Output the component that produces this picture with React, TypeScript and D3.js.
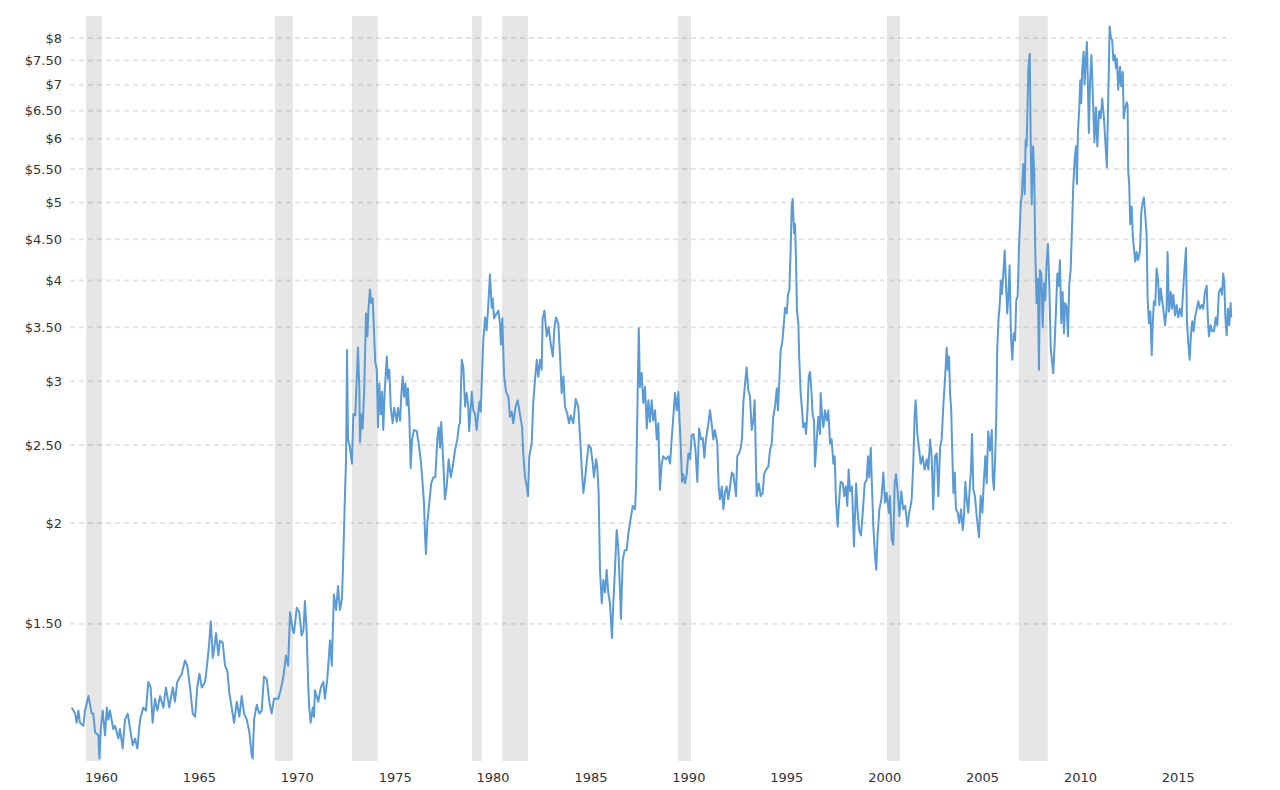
import React, { useEffect, useRef } from 'react';
import * as d3 from 'd3';

// Corn price history (log scale).
// Dates are in the chart's own year units (as placed against the axis labels).
const priceSeries: [number, number][] = [
  [1958.48, 1.18], [1958.65, 1.16], [1958.73, 1.13], [1958.82, 1.17], [1958.9, 1.13], [1959.07, 1.12],
  [1959.16, 1.17], [1959.33, 1.22], [1959.5, 1.16], [1959.58, 1.16], [1959.67, 1.1], [1959.84, 1.09],
  [1959.89, 1.02], [1959.96, 1.11], [1960.06, 1.17], [1960.18, 1.09], [1960.27, 1.18], [1960.35, 1.14],
  [1960.43, 1.17], [1960.6, 1.11], [1960.69, 1.12], [1960.86, 1.08], [1960.94, 1.11], [1961.08, 1.05],
  [1961.2, 1.14], [1961.34, 1.16], [1961.46, 1.11], [1961.59, 1.06], [1961.71, 1.08], [1961.83, 1.05],
  [1961.97, 1.14], [1962.13, 1.18], [1962.27, 1.17], [1962.39, 1.27], [1962.51, 1.25], [1962.61, 1.13],
  [1962.73, 1.21], [1962.85, 1.17], [1962.99, 1.22], [1963.16, 1.18], [1963.29, 1.25], [1963.46, 1.18],
  [1963.64, 1.25], [1963.75, 1.2], [1963.87, 1.27], [1964.1, 1.3], [1964.26, 1.35], [1964.38, 1.33],
  [1964.52, 1.25], [1964.66, 1.16], [1964.78, 1.15], [1964.89, 1.25], [1965.0, 1.3], [1965.12, 1.25],
  [1965.29, 1.27], [1965.4, 1.34], [1965.49, 1.41], [1965.58, 1.51], [1965.68, 1.36], [1965.76, 1.4],
  [1965.85, 1.46], [1965.97, 1.37], [1966.05, 1.43], [1966.19, 1.42], [1966.31, 1.33], [1966.43, 1.31],
  [1966.53, 1.23], [1966.65, 1.18], [1966.77, 1.13], [1966.91, 1.2], [1967.04, 1.15], [1967.16, 1.22],
  [1967.28, 1.16], [1967.42, 1.14], [1967.55, 1.1], [1967.67, 1.03], [1967.72, 1.02], [1967.79, 1.14],
  [1967.93, 1.19], [1968.06, 1.16], [1968.18, 1.17], [1968.3, 1.29], [1968.44, 1.28], [1968.57, 1.2],
  [1968.69, 1.16], [1968.81, 1.21], [1969.03, 1.21], [1969.15, 1.24], [1969.29, 1.29], [1969.42, 1.37],
  [1969.53, 1.33], [1969.63, 1.55], [1969.77, 1.47], [1969.83, 1.46], [1969.97, 1.57], [1970.1, 1.55],
  [1970.22, 1.45], [1970.31, 1.47], [1970.39, 1.6], [1970.48, 1.46], [1970.56, 1.25], [1970.61, 1.18],
  [1970.68, 1.13], [1970.79, 1.18], [1970.85, 1.15], [1970.9, 1.24], [1971.07, 1.2], [1971.2, 1.25],
  [1971.33, 1.27], [1971.41, 1.21], [1971.53, 1.28], [1971.67, 1.43], [1971.76, 1.33], [1971.87, 1.63],
  [1971.98, 1.56], [1972.08, 1.67], [1972.18, 1.56], [1972.28, 1.61], [1972.35, 1.82], [1972.4, 2.02],
  [1972.45, 2.24], [1972.49, 2.4], [1972.54, 3.28], [1972.59, 2.54], [1972.69, 2.48], [1972.79, 2.37],
  [1972.86, 2.73], [1972.96, 2.72], [1973.1, 3.3], [1973.17, 2.93], [1973.2, 2.52], [1973.29, 2.73],
  [1973.34, 2.62], [1973.42, 2.95], [1973.51, 3.64], [1973.58, 3.41], [1973.63, 3.67], [1973.71, 3.9],
  [1973.78, 3.75], [1973.85, 3.8], [1973.92, 3.44], [1973.98, 3.17], [1974.06, 3.1], [1974.12, 2.63],
  [1974.19, 2.98], [1974.26, 2.73], [1974.33, 2.91], [1974.39, 2.61], [1974.46, 2.9], [1974.57, 3.22],
  [1974.63, 3.02], [1974.7, 3.1], [1974.77, 2.79], [1974.87, 2.66], [1974.95, 2.78], [1975.08, 2.67],
  [1975.14, 2.78], [1975.25, 2.68], [1975.31, 2.88], [1975.38, 3.04], [1975.45, 2.87], [1975.52, 2.98],
  [1975.59, 2.8], [1975.65, 2.94], [1975.72, 2.71], [1975.79, 2.34], [1975.86, 2.54], [1975.96, 2.61],
  [1976.1, 2.6], [1976.2, 2.51], [1976.3, 2.4], [1976.4, 2.24], [1976.47, 2.12], [1976.52, 1.94],
  [1976.57, 1.83], [1976.64, 2.0], [1976.74, 2.12], [1976.84, 2.24], [1976.95, 2.28], [1977.05, 2.28],
  [1977.15, 2.54], [1977.22, 2.63], [1977.29, 2.48], [1977.35, 2.67], [1977.46, 2.37], [1977.54, 2.14],
  [1977.63, 2.22], [1977.73, 2.4], [1977.84, 2.28], [1977.94, 2.35], [1978.05, 2.46], [1978.17, 2.54],
  [1978.26, 2.65], [1978.31, 2.66], [1978.4, 3.19], [1978.48, 3.12], [1978.57, 2.79], [1978.65, 2.9],
  [1978.73, 2.79], [1978.78, 2.6], [1978.91, 2.91], [1978.99, 2.76], [1979.08, 2.73], [1979.16, 2.61],
  [1979.3, 2.83], [1979.37, 2.75], [1979.43, 3.04], [1979.5, 3.37], [1979.59, 3.6], [1979.67, 3.47],
  [1979.76, 3.75], [1979.84, 4.07], [1979.93, 3.7], [1979.98, 3.8], [1980.05, 3.59], [1980.15, 3.63],
  [1980.27, 3.67], [1980.35, 3.54], [1980.4, 3.33], [1980.47, 3.59], [1980.56, 3.05], [1980.66, 2.91],
  [1980.78, 2.87], [1980.86, 2.71], [1980.95, 2.75], [1981.03, 2.66], [1981.15, 2.79], [1981.26, 2.84],
  [1981.37, 2.73], [1981.48, 2.63], [1981.54, 2.44], [1981.63, 2.28], [1981.72, 2.22], [1981.78, 2.16],
  [1981.85, 2.42], [1981.97, 2.51], [1982.05, 2.82], [1982.14, 3.01], [1982.23, 3.19], [1982.31, 3.04],
  [1982.4, 3.19], [1982.48, 3.1], [1982.53, 3.59], [1982.62, 3.67], [1982.74, 3.41], [1982.84, 3.5],
  [1982.94, 3.34], [1983.05, 3.22], [1983.13, 3.49], [1983.21, 3.6], [1983.33, 3.54], [1983.42, 3.22],
  [1983.5, 2.9], [1983.59, 3.04], [1983.67, 2.79], [1983.79, 2.73], [1983.88, 2.66], [1983.96, 2.72],
  [1984.1, 2.66], [1984.22, 2.85], [1984.35, 2.79], [1984.44, 2.56], [1984.53, 2.33], [1984.61, 2.18],
  [1984.69, 2.26], [1984.78, 2.38], [1984.88, 2.5], [1984.99, 2.48], [1985.09, 2.37], [1985.15, 2.28],
  [1985.26, 2.4], [1985.32, 2.35], [1985.39, 2.18], [1985.46, 1.75], [1985.55, 1.59], [1985.63, 1.7],
  [1985.72, 1.64], [1985.8, 1.75], [1985.88, 1.64], [1985.97, 1.59], [1986.07, 1.44], [1986.14, 1.59],
  [1986.23, 1.76], [1986.31, 1.96], [1986.39, 1.87], [1986.48, 1.65], [1986.53, 1.52], [1986.62, 1.8],
  [1986.72, 1.85], [1986.82, 1.85], [1986.91, 1.94], [1986.99, 2.0], [1987.13, 2.1], [1987.25, 2.08],
  [1987.3, 2.22], [1987.37, 2.76], [1987.44, 3.49], [1987.5, 2.95], [1987.59, 3.07], [1987.67, 2.82],
  [1987.76, 2.95], [1987.85, 2.62], [1987.93, 2.84], [1988.01, 2.67], [1988.1, 2.84], [1988.18, 2.68],
  [1988.27, 2.76], [1988.36, 2.54], [1988.44, 2.66], [1988.52, 2.2], [1988.61, 2.37], [1988.69, 2.42],
  [1988.83, 2.4], [1988.95, 2.42], [1989.04, 2.37], [1989.12, 2.54], [1989.2, 2.7], [1989.29, 2.9],
  [1989.38, 2.76], [1989.46, 2.91], [1989.51, 2.73], [1989.58, 2.51], [1989.65, 2.25], [1989.71, 2.3],
  [1989.8, 2.24], [1989.89, 2.3], [1989.97, 2.44], [1990.06, 2.4], [1990.14, 2.57], [1990.23, 2.58],
  [1990.33, 2.48], [1990.43, 2.25], [1990.52, 2.62], [1990.62, 2.54], [1990.71, 2.55], [1990.79, 2.41],
  [1990.87, 2.54], [1990.99, 2.65], [1991.08, 2.76], [1991.16, 2.66], [1991.25, 2.54], [1991.33, 2.61],
  [1991.45, 2.51], [1991.52, 2.22], [1991.59, 2.14], [1991.68, 2.22], [1991.76, 2.08], [1991.84, 2.18],
  [1991.93, 2.22], [1992.01, 2.14], [1992.1, 2.22], [1992.19, 2.31], [1992.27, 2.3], [1992.35, 2.22],
  [1992.41, 2.16], [1992.47, 2.42], [1992.56, 2.44], [1992.65, 2.48], [1992.71, 2.54], [1992.78, 2.82],
  [1992.87, 2.98], [1992.95, 3.12], [1993.03, 2.93], [1993.12, 2.87], [1993.21, 2.61], [1993.29, 2.68],
  [1993.36, 2.84], [1993.46, 2.16], [1993.57, 2.24], [1993.67, 2.16], [1993.77, 2.18], [1993.84, 2.3],
  [1993.94, 2.33], [1994.06, 2.35], [1994.14, 2.46], [1994.23, 2.51], [1994.31, 2.71], [1994.4, 2.79],
  [1994.49, 2.94], [1994.55, 2.76], [1994.62, 3.01], [1994.69, 3.28], [1994.76, 3.34], [1994.82, 3.46],
  [1994.91, 3.7], [1995.0, 3.64], [1995.06, 3.84], [1995.13, 3.89], [1995.2, 4.39], [1995.25, 4.94],
  [1995.3, 5.05], [1995.37, 4.58], [1995.42, 4.7], [1995.47, 4.26], [1995.52, 3.67], [1995.59, 3.54],
  [1995.64, 3.19], [1995.71, 2.9], [1995.78, 2.76], [1995.84, 2.63], [1995.93, 2.66], [1995.98, 2.58],
  [1996.05, 2.73], [1996.12, 3.04], [1996.19, 3.08], [1996.25, 2.94], [1996.32, 2.73], [1996.39, 2.68],
  [1996.44, 2.35], [1996.53, 2.54], [1996.61, 2.71], [1996.7, 2.58], [1996.73, 2.9], [1996.8, 2.73],
  [1996.87, 2.63], [1996.95, 2.76], [1997.04, 2.68], [1997.12, 2.76], [1997.21, 2.51], [1997.29, 2.54],
  [1997.38, 2.37], [1997.45, 2.42], [1997.51, 2.14], [1997.6, 1.98], [1997.68, 2.14], [1997.75, 2.25],
  [1997.86, 2.24], [1997.94, 2.16], [1998.02, 2.22], [1998.09, 2.1], [1998.16, 2.33], [1998.23, 2.19],
  [1998.33, 2.22], [1998.43, 1.87], [1998.54, 2.24], [1998.62, 2.06], [1998.7, 1.96], [1998.79, 1.93],
  [1998.88, 2.06], [1998.98, 2.24], [1999.08, 2.26], [1999.15, 2.42], [1999.21, 2.28], [1999.29, 2.48],
  [1999.35, 2.22], [1999.42, 1.98], [1999.51, 1.82], [1999.57, 1.75], [1999.64, 1.93], [1999.73, 2.08],
  [1999.83, 2.14], [1999.93, 2.31], [2000.02, 2.12], [2000.1, 2.18], [2000.21, 2.06], [2000.27, 2.16],
  [2000.36, 1.91], [2000.44, 1.88], [2000.51, 2.24], [2000.58, 2.3], [2000.67, 2.18], [2000.75, 2.04],
  [2000.85, 2.19], [2000.95, 2.08], [2001.05, 2.1], [2001.16, 1.98], [2001.26, 2.06], [2001.38, 2.14],
  [2001.46, 2.37], [2001.53, 2.71], [2001.58, 2.84], [2001.67, 2.58], [2001.75, 2.48], [2001.84, 2.37],
  [2001.94, 2.42], [2002.04, 2.33], [2002.15, 2.4], [2002.23, 2.33], [2002.32, 2.54], [2002.4, 2.42],
  [2002.48, 2.08], [2002.57, 2.42], [2002.66, 2.44], [2002.74, 2.16], [2002.83, 2.48], [2002.91, 2.54],
  [2002.99, 2.78], [2003.08, 3.02], [2003.17, 3.3], [2003.22, 3.1], [2003.29, 3.22], [2003.34, 2.9],
  [2003.4, 2.76], [2003.45, 2.46], [2003.51, 2.18], [2003.58, 2.31], [2003.64, 2.08], [2003.73, 2.06],
  [2003.81, 2.0], [2003.9, 2.08], [2003.99, 1.96], [2004.05, 2.04], [2004.12, 2.25], [2004.19, 2.14],
  [2004.27, 2.06], [2004.36, 2.24], [2004.41, 2.33], [2004.46, 2.58], [2004.53, 2.2], [2004.61, 2.16],
  [2004.7, 2.04], [2004.82, 1.92], [2004.9, 2.16], [2004.99, 2.06], [2005.06, 2.24], [2005.14, 2.42],
  [2005.21, 2.24], [2005.29, 2.6], [2005.38, 2.46], [2005.47, 2.61], [2005.52, 2.28], [2005.58, 2.2],
  [2005.65, 2.44], [2005.7, 2.71], [2005.75, 3.3], [2005.82, 3.59], [2005.89, 3.78], [2005.93, 4.0],
  [2005.99, 3.85], [2006.06, 4.08], [2006.13, 4.36], [2006.2, 3.94], [2006.26, 3.64], [2006.33, 3.89],
  [2006.38, 4.18], [2006.45, 3.41], [2006.52, 3.19], [2006.59, 3.44], [2006.66, 3.37], [2006.72, 3.78],
  [2006.79, 3.82], [2006.86, 4.39], [2006.95, 4.97], [2007.01, 5.12], [2007.08, 5.58], [2007.15, 5.12],
  [2007.2, 5.97], [2007.25, 5.87], [2007.28, 6.33], [2007.34, 7.34], [2007.41, 7.65], [2007.46, 5.92],
  [2007.51, 4.97], [2007.58, 5.87], [2007.64, 5.43], [2007.69, 4.36], [2007.76, 3.75], [2007.82, 4.02],
  [2007.88, 3.1], [2007.93, 4.12], [2008.0, 4.08], [2008.07, 3.5], [2008.14, 3.97], [2008.2, 3.78],
  [2008.27, 4.21], [2008.34, 4.44], [2008.41, 3.94], [2008.48, 3.3], [2008.55, 3.17], [2008.61, 3.07],
  [2008.68, 3.34], [2008.75, 3.67], [2008.82, 4.08], [2008.89, 3.94], [2008.95, 4.24], [2009.02, 3.54],
  [2009.09, 3.87], [2009.16, 3.44], [2009.22, 3.75], [2009.3, 3.71], [2009.36, 3.41], [2009.43, 3.97],
  [2009.5, 4.12], [2009.57, 4.67], [2009.63, 5.23], [2009.7, 5.64], [2009.77, 5.87], [2009.82, 5.27],
  [2009.87, 6.1], [2009.94, 6.56], [2009.99, 7.09], [2010.04, 6.64], [2010.09, 7.3], [2010.16, 7.69],
  [2010.21, 7.0], [2010.27, 7.5], [2010.33, 7.91], [2010.38, 7.0], [2010.43, 6.1], [2010.49, 7.06],
  [2010.56, 7.62], [2010.65, 6.61], [2010.71, 5.94], [2010.79, 6.56], [2010.86, 5.87], [2010.95, 6.49],
  [2011.03, 6.36], [2011.11, 6.73], [2011.2, 6.36], [2011.29, 5.84], [2011.35, 5.53], [2011.4, 6.42],
  [2011.46, 7.54], [2011.49, 8.27], [2011.56, 8.0], [2011.62, 7.96], [2011.68, 7.5], [2011.75, 7.62],
  [2011.81, 7.34], [2011.86, 7.54], [2011.93, 6.9], [2012.02, 7.37], [2012.08, 6.97], [2012.16, 7.26],
  [2012.21, 6.36], [2012.27, 6.53], [2012.36, 6.66], [2012.41, 6.59], [2012.44, 5.46], [2012.49, 5.27],
  [2012.54, 4.7], [2012.62, 4.94], [2012.67, 4.55], [2012.73, 4.39], [2012.8, 4.22], [2012.87, 4.34],
  [2012.95, 4.24], [2013.04, 4.36], [2013.11, 4.88], [2013.18, 5.0], [2013.24, 5.07], [2013.31, 4.82],
  [2013.38, 4.55], [2013.43, 3.8], [2013.5, 3.54], [2013.57, 3.66], [2013.64, 3.23], [2013.69, 3.52],
  [2013.75, 3.77], [2013.82, 3.73], [2013.89, 4.14], [2013.96, 4.02], [2014.03, 3.73], [2014.1, 3.91],
  [2014.16, 3.8], [2014.23, 3.69], [2014.32, 3.52], [2014.4, 3.69], [2014.45, 4.34], [2014.52, 3.66],
  [2014.61, 3.87], [2014.67, 3.69], [2014.74, 3.84], [2014.83, 3.62], [2014.91, 3.73], [2014.99, 3.6],
  [2015.08, 3.69], [2015.17, 3.61], [2015.25, 3.91], [2015.34, 4.22], [2015.39, 4.39], [2015.44, 3.56],
  [2015.51, 3.34], [2015.58, 3.19], [2015.64, 3.42], [2015.71, 3.56], [2015.78, 3.46], [2015.85, 3.6],
  [2015.94, 3.69], [2016.02, 3.77], [2016.1, 3.69], [2016.19, 3.73], [2016.27, 3.69], [2016.36, 3.87],
  [2016.45, 3.94], [2016.5, 3.62], [2016.56, 3.41], [2016.65, 3.52], [2016.73, 3.46], [2016.82, 3.46],
  [2016.91, 3.6], [2016.99, 3.52], [2017.07, 3.87], [2017.16, 3.91], [2017.23, 3.84], [2017.29, 4.08],
  [2017.35, 3.97], [2017.4, 3.6], [2017.47, 3.42], [2017.53, 3.69], [2017.6, 3.52], [2017.67, 3.75],
  [2017.7, 3.6],
];

// Shaded recession periods, as drawn against the axis
const recessions: [number, number][] = [
  [1959.21, 1960.01],
  [1968.86, 1969.77],
  [1972.79, 1974.11],
  [1978.92, 1979.42],
  [1980.46, 1981.78],
  [1989.44, 1990.11],
  [2000.12, 2000.78],
  [2006.86, 2008.33],
];

const yTicks = [1.5, 2, 2.5, 3, 3.5, 4, 4.5, 5, 5.5, 6, 6.5, 7, 7.5, 8];
const xTicks = [1960, 1965, 1970, 1975, 1980, 1985, 1990, 1995, 2000, 2005, 2010, 2015];

const WIDTH = 1280;
const HEIGHT = 790;
const plot = { left: 70, right: 1232, top: 16, bottom: 761 };

const formatPrice = (v: number) => (Number.isInteger(v) ? `$${v}` : `$${v.toFixed(2)}`);

const App: React.FC = () => {
  const svgRef = useRef<SVGSVGElement>(null);

  useEffect(() => {
    if (!svgRef.current) return;
    const svg = d3.select(svgRef.current);
    svg.selectAll('*').remove();

    const x = d3.scaleLinear().domain([1958.39, 2017.74]).range([plot.left, plot.right]);
    const y = d3.scaleLog().domain([1.013, 8.52]).range([plot.bottom, plot.top]);

    // recession bands
    svg
      .append('g')
      .selectAll('rect')
      .data(recessions)
      .enter()
      .append('rect')
      .attr('x', d => x(d[0]))
      .attr('width', d => x(d[1]) - x(d[0]))
      .attr('y', plot.top)
      .attr('height', plot.bottom - plot.top)
      .attr('fill', '#e6e6e6');

    // dashed grid
    svg
      .append('g')
      .selectAll('line')
      .data(yTicks)
      .enter()
      .append('line')
      .attr('x1', plot.left)
      .attr('x2', plot.right)
      .attr('y1', d => y(d))
      .attr('y2', d => y(d))
      .attr('stroke', 'rgba(0,0,0,0.1)')
      .attr('stroke-width', 2)
      .attr('stroke-dasharray', '5,4');

    // y labels
    svg
      .append('g')
      .selectAll('text')
      .data(yTicks)
      .enter()
      .append('text')
      .attr('x', 62)
      .attr('y', d => y(d))
      .attr('dy', '0.35em')
      .attr('text-anchor', 'end')
      .style('font-family', '"DejaVu Sans", Verdana, sans-serif')
      .style('font-size', '13px')
      .style('fill', '#333')
      .text(d => formatPrice(d));

    // x labels
    svg
      .append('g')
      .selectAll('text')
      .data(xTicks)
      .enter()
      .append('text')
      .attr('x', d => x(d))
      .attr('y', 782)
      .attr('text-anchor', 'middle')
      .style('font-family', '"DejaVu Sans", Verdana, sans-serif')
      .style('font-size', '13px')
      .style('fill', '#333')
      .text(d => String(d));

    const line = d3
      .line<[number, number]>()
      .x(d => x(d[0]))
      .y(d => y(d[1]));

    svg
      .append('path')
      .datum(priceSeries)
      .attr('d', line)
      .attr('fill', 'none')
      .attr('stroke', '#5b9bd5')
      .attr('stroke-width', 2)
      .attr('stroke-linejoin', 'round');
  }, []);

  return (
    <svg
      ref={svgRef}
      width={WIDTH}
      height={HEIGHT}
      style={{ position: 'absolute', left: 0, top: 0, background: '#fff' }}
    />
  );
};

export default App;
